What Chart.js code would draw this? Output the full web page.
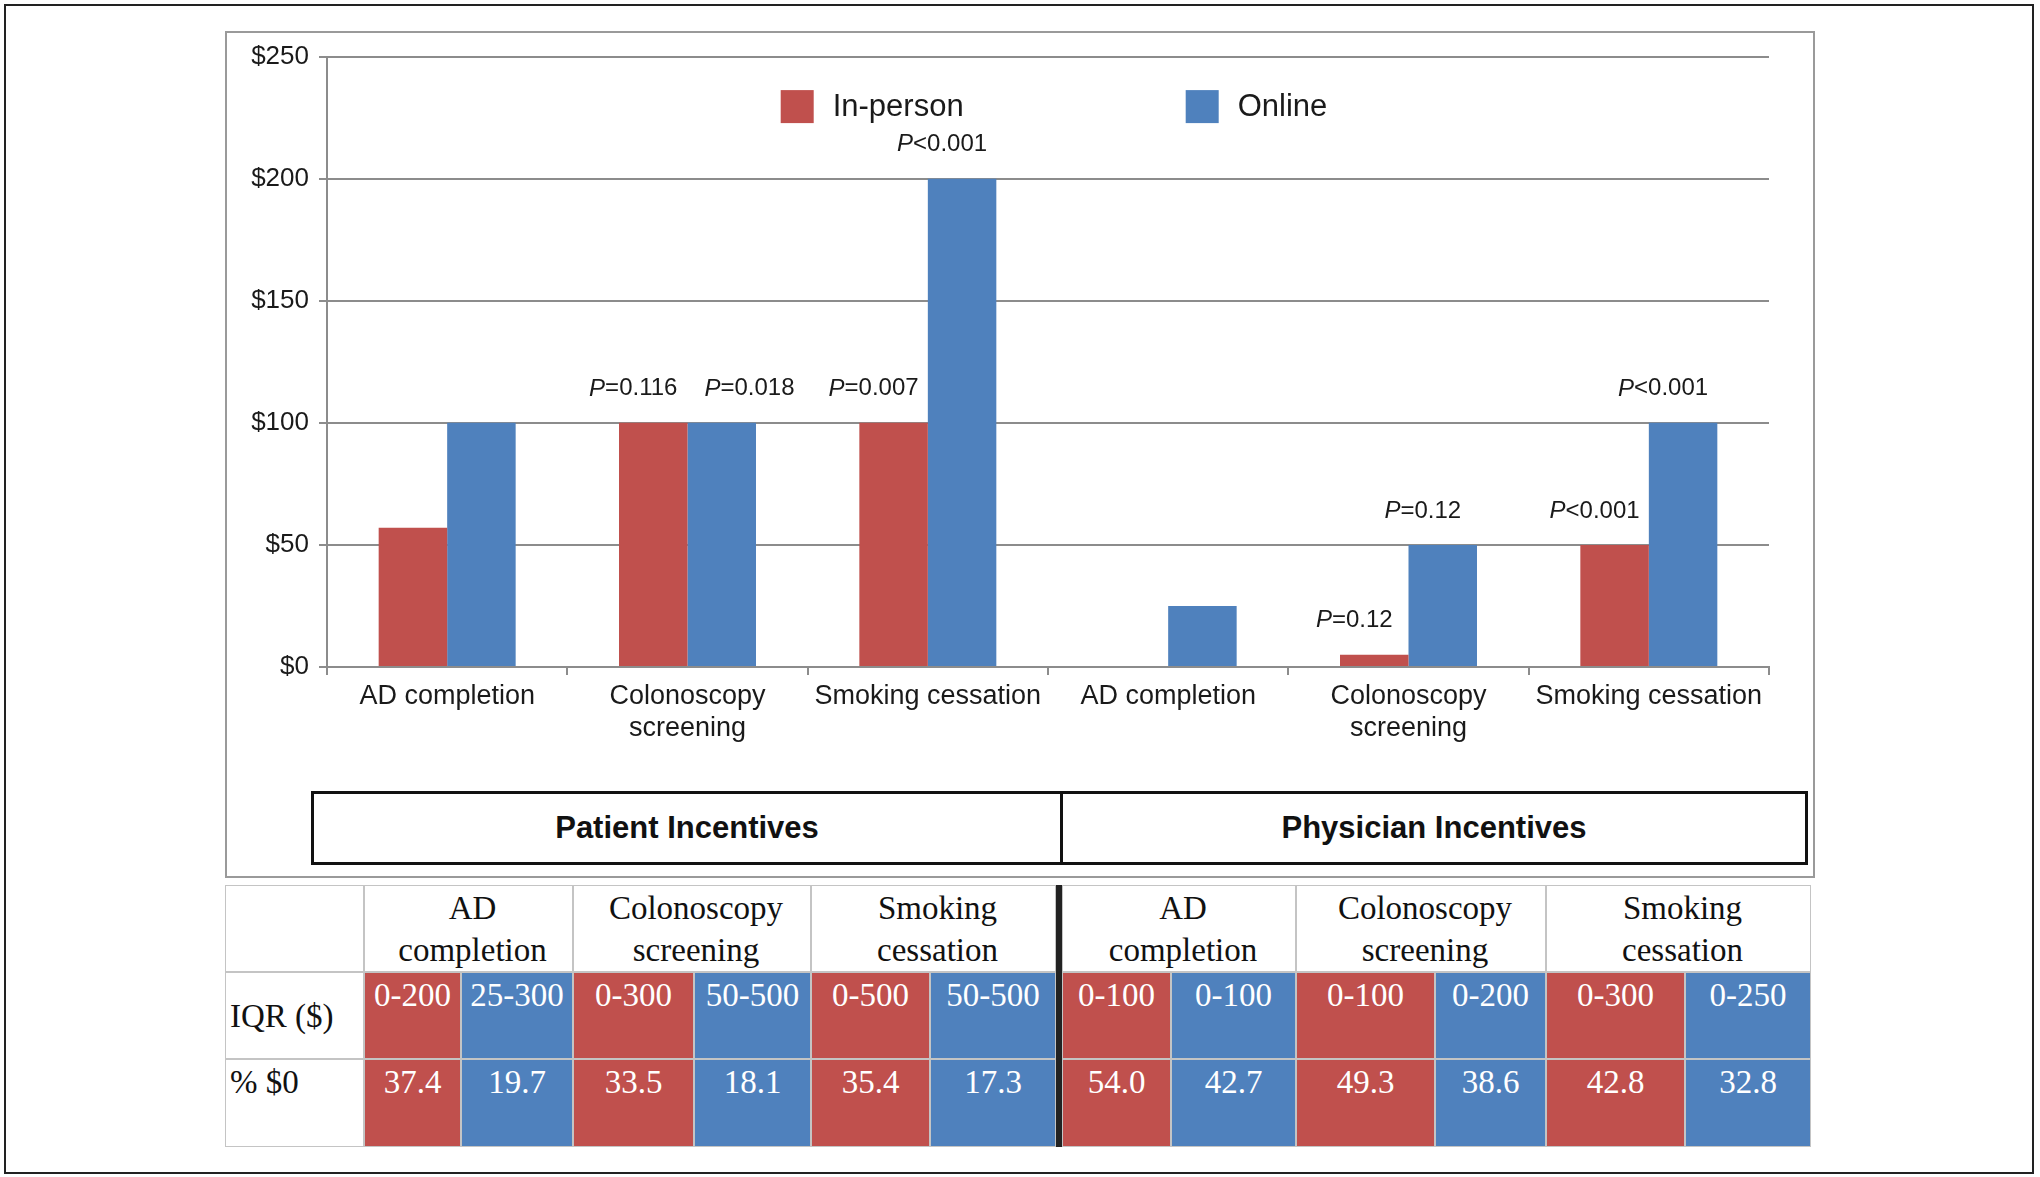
<!DOCTYPE html>
<html>
<head>
<meta charset="utf-8">
<script src="https://cdn.jsdelivr.net/npm/chart.js@4.4.1/dist/chart.umd.min.js"></script>
<style>
  html, body { margin: 0; padding: 0; background: #fff; }
  body { width: 2040px; height: 1177px; position: relative; overflow: hidden; font-family: 'Liberation Sans', Arial, sans-serif; }
  #outer { position: absolute; left: 4px; top: 4px; width: 2030px; height: 1170px; border: 2px solid #222; box-sizing: border-box; }
  #frame { position: absolute; left: 225px; top: 31px; width: 1590px; height: 847px; border: 2px solid #9a9a9a; box-sizing: border-box; }
  #chartBox { position: absolute; left: 225px; top: 31px; width: 1590px; height: 760px; }
  #groups { position: absolute; left: 311px; top: 791px; width: 1497px; height: 74px; border: 3px solid #111; box-sizing: border-box; display: flex; }
  .grp { display: flex; align-items: center; justify-content: center; font-weight: bold; font-size: 31px; color: #111; box-sizing: border-box; }
  #table { position: absolute; left: 225px; top: 885px; display: grid; font-family: 'Liberation Serif', 'Times New Roman', serif; font-size: 33px; }
  .cell { box-sizing: border-box; border: 1px solid #c4c4c4; }
  .head { background: #fff; color: #111; display: flex; flex-direction: column; align-items: center; justify-content: center; line-height: 42px; padding-left: 8px; }
  .val { color: #fff; text-align: center; padding-top: 3px; line-height: 38px; }
  .lab { background: #fff; color: #111; padding-left: 4px; line-height: 38px; }
</style>
</head>
<body>
<div id="outer"></div>
<div id="frame"></div>
<div id="chartBox"><canvas id="incentive-chart"></canvas></div>
<div id="groups"></div>
<div id="table"></div>
<script>
// chart values
const categories = [['AD completion'], ['Colonoscopy', 'screening'], ['Smoking cessation'],
                    ['AD completion'], ['Colonoscopy', 'screening'], ['Smoking cessation']];
const groups = ['Patient Incentives', 'Physician Incentives'];
const seriesNames = ['In-person', 'Online'];
const inPerson = [57, 100, 100, 0, 5, 50];
const online = [100, 100, 200, 25, 50, 100];
const pInPerson = [null, '=0.116', '=0.007', null, '=0.12', '<0.001'];
const pOnline = [null, '=0.018', '<0.001', null, '=0.12', '<0.001'];
const yTicks = [0, 50, 100, 150, 200, 250];

// table values
const tableHeaders = [['AD', 'completion'], ['Colonoscopy', 'screening'], ['Smoking', 'cessation'],
                      ['AD', 'completion'], ['Colonoscopy', 'screening'], ['Smoking', 'cessation']];
const rowLabels = ['IQR ($)', '% $0'];
const iqrInPerson = ['0-200', '0-300', '0-500', '0-100', '0-100', '0-300'];
const iqrOnline = ['25-300', '50-500', '50-500', '0-100', '0-200', '0-250'];
const zeroInPerson = ['37.4', '33.5', '35.4', '54.0', '49.3', '42.8'];
const zeroOnline = ['19.7', '18.1', '17.3', '42.7', '38.6', '32.8'];

const RED = '#c0504d';
const BLUE = '#4f81bd';
const GRID = '#8c8c8c';
const FAMILY = "'Liberation Sans', Arial, sans-serif";

// P-value labels above the bars
const pLabelPlugin = {
    id: 'pLabels',
    afterDatasetsDraw(chart, args, opts) {
        const ctx = chart.ctx;
        ctx.save();
        ctx.fillStyle = '#1a1a1a';
        ctx.textBaseline = 'middle';
        ctx.textAlign = 'left';
        const n = chart.data.labels.length;
        for (let i = 0; i < n; i++) {
            let prev = null;
            chart.data.datasets.forEach((ds, di) => {
                const txt = ds.pLabels[i];
                if (!txt) return;
                const bar = chart.getDatasetMeta(di).data[i];
                ctx.font = `italic ${opts.size}px ${FAMILY}`;
                const wP = ctx.measureText('P').width;
                ctx.font = `${opts.size}px ${FAMILY}`;
                const wR = ctx.measureText(txt).width;
                const w = wP + wR;
                const y = bar.y - opts.lift;
                let left = bar.x + opts.shift - w / 2;
                if (prev && Math.abs(prev.y - y) < opts.size && left < prev.right + opts.gap) {
                    left = prev.right + opts.gap;
                }
                ctx.font = `italic ${opts.size}px ${FAMILY}`;
                ctx.fillText('P', left, y);
                ctx.font = `${opts.size}px ${FAMILY}`;
                ctx.fillText(txt, left + wP, y);
                prev = { y: y, right: left + w };
            });
        }
        ctx.restore();
    }
};

// legend drawn inside the plot area
const topLegendPlugin = {
    id: 'topLegend',
    afterDraw(chart, args, opts) {
        const { ctx, chartArea } = chart;
        const sets = chart.data.datasets;
        ctx.save();
        ctx.font = `${opts.size}px ${FAMILY}`;
        const lastW = ctx.measureText(sets[sets.length - 1].label).width;
        const total = opts.spacing * (sets.length - 1) + opts.box + opts.gap + lastW;
        let x = (chartArea.left + chartArea.right) / 2 - total / 2 + opts.offsetX;
        const y = chartArea.top + opts.offsetY;
        sets.forEach(ds => {
            ctx.fillStyle = ds.backgroundColor;
            ctx.fillRect(x, y - opts.box / 2, opts.box, opts.box);
            ctx.fillStyle = '#1a1a1a';
            ctx.textBaseline = 'middle';
            ctx.fillText(ds.label, x + opts.box + opts.gap, y + 1);
            x += opts.spacing;
        });
        ctx.restore();
    }
};

Chart.defaults.font.family = FAMILY;
Chart.defaults.color = '#1a1a1a';

const ctx = document.getElementById('incentive-chart').getContext('2d');
window.incentiveChart = new Chart(ctx, {
    type: 'bar',
    data: {
        labels: categories,
        datasets: [{
            label: seriesNames[0],
            data: inPerson,
            pLabels: pInPerson,
            backgroundColor: RED,
            categoryPercentage: 0.57,
            barPercentage: 1.0
        }, {
            label: seriesNames[1],
            data: online,
            pLabels: pOnline,
            backgroundColor: BLUE,
            categoryPercentage: 0.57,
            barPercentage: 1.0
        }]
    },
    options: {
        responsive: true,
        maintainAspectRatio: false,
        animation: false,
        devicePixelRatio: 1,
        layout: { padding: { left: 0, right: 46, top: 16, bottom: 24 } },
        plugins: {
            legend: { display: false },
            tooltip: { enabled: false },
            pLabels: { size: 24, lift: 34, shift: -20, gap: 27 },
            topLegend: { size: 31, box: 33, gap: 19, spacing: 405, offsetY: 50, offsetX: 6 }
        },
        scales: {
            x: {
                offset: true,
                grid: { display: true, drawOnChartArea: false, drawTicks: true, tickLength: 8, color: GRID, lineWidth: 2 },
                border: { display: true, color: GRID, width: 2 },
                ticks: { font: { size: 27 }, padding: 5, maxRotation: 0, autoSkip: false, color: '#1a1a1a' },
                afterFit: (scale) => { scale.height = 100; }
            },
            y: {
                min: 0,
                max: 250,
                afterBuildTicks: (scale) => { scale.ticks = yTicks.map(v => ({ value: v })); },
                grid: { color: GRID, lineWidth: 2, tickLength: 8, drawTicks: true },
                border: { display: true, color: GRID, width: 2 },
                ticks: { font: { size: 26 }, padding: 10, color: '#1a1a1a', callback: (v) => '$' + v },
                afterFit: (scale) => { scale.width = 102; }
            }
        }
    },
    plugins: [pLabelPlugin, topLegendPlugin]
});

// group box under the axis
const groupBox = document.getElementById('groups');
const groupWidths = [749, 742];
groups.forEach((g, i) => {
    const d = document.createElement('div');
    d.className = 'grp';
    d.style.width = groupWidths[i] + 'px';
    if (i === 0) d.style.borderRight = '3px solid #111';
    d.textContent = g;
    groupBox.appendChild(d);
});

// IQR table
const colWidths = [139, 97, 112, 121, 117, 119, 126, 6, 109, 125, 139, 111, 139, 126];
const table = document.getElementById('table');
table.style.gridTemplateColumns = colWidths.map(w => w + 'px').join(' ');
table.style.gridTemplateRows = '87px 87px 88px';

function addCell(cls, col, row, span, content, bg) {
    const c = document.createElement('div');
    c.className = 'cell ' + cls;
    c.style.gridColumn = col + ' / span ' + span;
    c.style.gridRow = String(row);
    if (bg) c.style.background = bg;
    if (Array.isArray(content)) {
        content.forEach(line => {
            const s = document.createElement('div');
            s.textContent = line;
            c.appendChild(s);
        });
    } else {
        c.textContent = content;
    }
    table.appendChild(c);
    return c;
}

function colFor(k) { return 2 + k * 2 + (k >= 3 ? 1 : 0); }

addCell('lab', 1, 1, 1, '');
tableHeaders.forEach((h, k) => addCell('head', colFor(k), 1, 2, h));

const iqrLab = addCell('lab', 1, 2, 1, rowLabels[0]);
iqrLab.style.display = 'flex';
iqrLab.style.alignItems = 'center';
const zeroLab = addCell('lab', 1, 3, 1, rowLabels[1]);
zeroLab.style.paddingTop = '3px';

[[iqrInPerson, iqrOnline], [zeroInPerson, zeroOnline]].forEach((pair, r) => {
    for (let k = 0; k < 6; k++) {
        addCell('val', colFor(k), r + 2, 1, pair[0][k], RED);
        addCell('val', colFor(k) + 1, r + 2, 1, pair[1][k], BLUE);
    }
});

const divider = document.createElement('div');
divider.style.gridColumn = '8';
divider.style.gridRow = '1 / span 3';
divider.style.background = '#222';
table.appendChild(divider);
</script>
</body>
</html>
